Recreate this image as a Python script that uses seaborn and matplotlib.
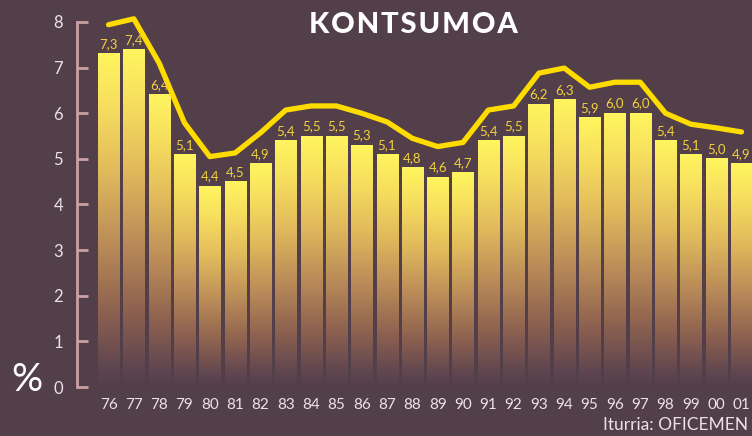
import numpy as np
import pandas as pd
import matplotlib
matplotlib.use("Agg")
import matplotlib.pyplot as plt
from matplotlib.colors import LinearSegmentedColormap
import seaborn as sns

years = ['76', '77', '78', '79', '80', '81', '82', '83', '84', '85', '86', '87', '88',
         '89', '90', '91', '92', '93', '94', '95', '96', '97', '98', '99', '00', '01']
bar_values = [7.3, 7.4, 6.4, 5.1, 4.4, 4.5, 4.9, 5.4, 5.5, 5.5, 5.3, 5.1, 4.8,
              4.6, 4.7, 5.4, 5.5, 6.2, 6.3, 5.9, 6.0, 6.0, 5.4, 5.1, 5.0, 4.9]
line_values = [7.94, 8.07, 7.10, 5.79, 5.05, 5.13, 5.57, 6.07, 6.16, 6.16, 6.00, 5.81, 5.45,
               5.27, 5.36, 6.07, 6.16, 6.88, 6.99, 6.57, 6.68, 6.68, 6.00, 5.76, 5.68, 5.59]
y_ticks = [0, 1, 2, 3, 4, 5, 6, 7, 8]
title = "KONTSUMOA"
source = "Iturria: OFICEMEN"

BG = "#533f49"
sns.set_theme(style="white")
plt.rcParams['font.family'] = ['Lato', 'DejaVu Sans']

df = pd.DataFrame({"year": years, "value": bar_values, "line": line_values})

fig = plt.figure(figsize=(7.52, 4.36), dpi=100, facecolor=BG)
ax = fig.add_axes([77 / 752, 49 / 436, 675 / 752, 365 / 436])
ax.set_facecolor(BG)

sns.barplot(data=df, x="year", y="value", ax=ax, width=0.83,
            color=BG, edgecolor="none", linewidth=0, alpha=0.0)

cmap = LinearSegmentedColormap.from_list(
    "bargrad",
    [(0.0, BG), (0.06, "#604650"), (0.22, "#8c604f"), (0.42, "#b98a58"),
     (0.65, "#e2bb5c"), (0.85, "#f7df5e"), (1.0, "#fff55e")])
grad = np.linspace(0, 1, 256).reshape(-1, 1)
for p in ax.patches:
    x0 = p.get_x()
    w = p.get_width()
    h = p.get_height()
    ax.imshow(grad, cmap=cmap, origin="lower", aspect="auto",
              extent=[x0, x0 + w, 0, h], zorder=2, interpolation="bicubic")
    ax.text(x0 + w / 2, h + 0.08, f"{h:.1f}".replace(".", ","), ha="center",
            va="bottom", fontsize=9.5, color="#f2d23c", zorder=4)

sns.lineplot(x=np.arange(len(years)), y=df["line"], ax=ax, color="#ffdc00",
             linewidth=3.8, zorder=3, clip_on=False, sort=False)

ax.set_xlim(-1.245, 25.415)
ax.set_ylim(0, 8)
ax.set_yticks(y_ticks)
ax.set_yticklabels([str(t) for t in y_ticks])
ax.set_xticks(np.arange(len(years)))
ax.set_xticklabels(years)
ax.set_xlabel("")
ax.set_ylabel("")

for s in ["top", "right", "bottom"]:
    ax.spines[s].set_visible(False)
ax.spines["left"].set_color("#c9a0a3")
ax.spines["left"].set_linewidth(2)

ax.tick_params(axis="y", left=True, direction="in", length=8, width=2, color="#c9a0a3",
               labelcolor="#ece2e6", labelsize=12, pad=10)
ax.tick_params(axis="x", bottom=False, length=0, labelcolor="#ece2e6", labelsize=11, pad=8)

fig.text(413 / 752, 1 - 25 / 436, "\u200a".join(title), ha="center", va="center",
         fontsize=21, fontweight="black", color="white")
fig.text(27 / 752, 1 - 380 / 436, "%", ha="center", va="center",
         fontsize=28, color="white")
fig.text(748 / 752, 1 - 425 / 436, source, ha="right", va="center",
         fontsize=12.5, color="#ece2e6")

fig.savefig("out.png", dpi=100, facecolor=BG)
